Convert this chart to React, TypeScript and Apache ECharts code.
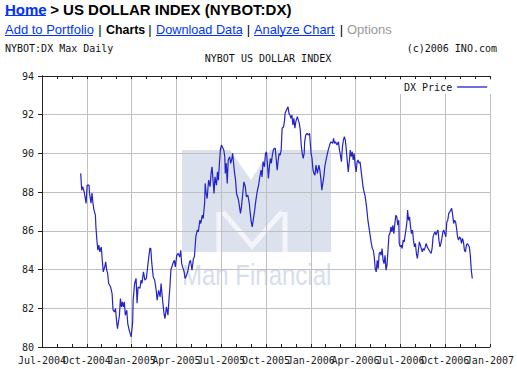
import React, { useEffect, useRef } from 'react';
import * as echarts from 'echarts';

// ---- data ----
const dates = [
  '2004-09-18','2004-09-19','2004-09-20','2004-09-22','2004-09-25','2004-09-29','2004-10-01','2004-10-05','2004-10-06','2004-10-09',
  '2004-10-11','2004-10-13','2004-10-15','2004-10-18','2004-10-19','2004-10-21','2004-10-23','2004-10-25','2004-10-27','2004-10-30',
  '2004-11-01','2004-11-03','2004-11-06','2004-11-08','2004-11-10','2004-11-12','2004-11-14','2004-11-18','2004-11-21','2004-11-23',
  '2004-11-26','2004-11-28','2004-11-30','2004-12-02','2004-12-04','2004-12-06','2004-12-08','2004-12-10','2004-12-12','2004-12-14',
  '2004-12-16','2004-12-18','2004-12-21','2004-12-23','2004-12-26','2004-12-28','2004-12-30','2005-01-01','2005-01-02','2005-01-03',
  '2005-01-06','2005-01-09','2005-01-11','2005-01-13','2005-01-17','2005-01-19','2005-01-21','2005-01-24','2005-01-27','2005-01-30',
  '2005-02-02','2005-02-06','2005-02-08','2005-02-10','2005-02-13','2005-02-16','2005-02-19','2005-02-21','2005-02-24','2005-02-27',
  '2005-03-01','2005-03-04','2005-03-07','2005-03-09','2005-03-12','2005-03-15','2005-03-17','2005-03-19','2005-03-21','2005-03-25',
  '2005-03-28','2005-03-30','2005-04-02','2005-04-05','2005-04-08','2005-04-10','2005-04-12','2005-04-14','2005-04-17','2005-04-19',
  '2005-04-22','2005-04-25','2005-04-28','2005-04-30','2005-05-03','2005-05-06','2005-05-08','2005-05-11','2005-05-14','2005-05-16',
  '2005-05-19','2005-05-21','2005-05-24','2005-05-26','2005-05-29','2005-05-30','2005-06-01','2005-06-03','2005-06-06','2005-06-09',
  '2005-06-11','2005-06-13','2005-06-15','2005-06-17','2005-06-19','2005-06-22','2005-06-24','2005-06-26','2005-06-28','2005-06-30',
  '2005-07-02','2005-07-04','2005-07-07','2005-07-09','2005-07-10','2005-07-12','2005-07-14','2005-07-16','2005-07-19','2005-07-21',
  '2005-07-23','2005-07-25','2005-07-27','2005-07-29','2005-07-31','2005-08-02','2005-08-04','2005-08-06','2005-08-08','2005-08-10',
  '2005-08-12','2005-08-15','2005-08-17','2005-08-20','2005-08-22','2005-08-25','2005-08-28','2005-08-30','2005-09-01','2005-09-03',
  '2005-09-05','2005-09-08','2005-09-10','2005-09-13','2005-09-16','2005-09-18','2005-09-21','2005-09-23','2005-09-25','2005-09-28',
  '2005-09-30','2005-10-02','2005-10-04','2005-10-06','2005-10-08','2005-10-10','2005-10-12','2005-10-14','2005-10-16','2005-10-18',
  '2005-10-20','2005-10-22','2005-10-24','2005-10-26','2005-10-28','2005-10-30','2005-11-01','2005-11-03','2005-11-06','2005-11-08',
  '2005-11-09','2005-11-12','2005-11-15','2005-11-17','2005-11-19','2005-11-21','2005-11-23','2005-11-25','2005-11-27','2005-11-29',
  '2005-12-01','2005-12-04','2005-12-06','2005-12-08','2005-12-10','2005-12-12','2005-12-14','2005-12-16','2005-12-18','2005-12-19',
  '2005-12-21','2005-12-24','2005-12-26','2005-12-29','2006-01-01','2006-01-03','2006-01-05','2006-01-07','2006-01-09','2006-01-11',
  '2006-01-14','2006-01-17','2006-01-19','2006-01-21','2006-01-23','2006-01-25','2006-01-27','2006-01-29','2006-01-31','2006-02-02',
  '2006-02-05','2006-02-07','2006-02-09','2006-02-11','2006-02-14','2006-02-16','2006-02-18','2006-02-20','2006-02-23','2006-02-26',
  '2006-02-28','2006-03-02','2006-03-04','2006-03-06','2006-03-08','2006-03-10','2006-03-12','2006-03-14','2006-03-16','2006-03-18',
  '2006-03-20','2006-03-22','2006-03-24','2006-03-26','2006-03-28','2006-03-30','2006-04-01','2006-04-03','2006-04-05','2006-04-07',
  '2006-04-09','2006-04-11','2006-04-13','2006-04-15','2006-04-17','2006-04-19','2006-04-21','2006-04-23','2006-04-25','2006-04-27',
  '2006-04-29','2006-05-02','2006-05-04','2006-05-06','2006-05-08','2006-05-10','2006-05-12','2006-05-14','2006-05-16','2006-05-18',
  '2006-05-20','2006-05-22','2006-05-24','2006-05-26','2006-05-28','2006-05-30','2006-06-01','2006-06-03','2006-06-05','2006-06-07',
  '2006-06-09','2006-06-11','2006-06-13','2006-06-15','2006-06-17','2006-06-19','2006-06-21','2006-06-23','2006-06-25','2006-06-27',
  '2006-06-29','2006-06-30','2006-07-02','2006-07-04','2006-07-06','2006-07-08','2006-07-10','2006-07-12','2006-07-14','2006-07-16',
  '2006-07-17','2006-07-19','2006-07-21','2006-07-23','2006-07-25','2006-07-27','2006-07-29','2006-07-31','2006-08-02','2006-08-04',
  '2006-08-06','2006-08-08','2006-08-10','2006-08-12','2006-08-14','2006-08-16','2006-08-18','2006-08-20','2006-08-22','2006-08-24',
  '2006-08-26','2006-08-28','2006-08-30','2006-09-01','2006-09-03','2006-09-05','2006-09-07','2006-09-09','2006-09-11','2006-09-13',
  '2006-09-15','2006-09-17','2006-09-19','2006-09-21','2006-09-23','2006-09-25','2006-09-27','2006-09-29','2006-10-01','2006-10-03',
  '2006-10-05','2006-10-07','2006-10-09','2006-10-11','2006-10-13','2006-10-15','2006-10-17','2006-10-19','2006-10-21','2006-10-23',
  '2006-10-25','2006-10-27','2006-10-29','2006-10-31','2006-11-02','2006-11-04','2006-11-06','2006-11-08','2006-11-10','2006-11-12',
  '2006-11-14','2006-11-16','2006-11-18','2006-11-20','2006-11-22','2006-11-24','2006-11-26'
];

const dxPrice = [
  88.97,88.53,88.10,88.28,88.02,87.42,88.36,88.36,87.93,87.43,
  87.95,87.43,87.07,86.81,86.21,85.52,85.00,85.26,84.91,85.17,
  84.48,83.88,84.14,84.40,83.97,83.80,83.28,83.10,82.76,81.90,
  81.81,81.99,81.38,80.95,81.29,81.64,82.50,82.07,82.33,82.07,
  82.33,81.64,81.90,81.21,80.86,80.69,80.52,81.03,81.29,82.42,
  83.28,83.54,82.26,83.10,83.04,83.45,83.29,83.88,83.45,83.55,
  84.23,85.09,85.09,84.33,83.62,83.45,82.93,82.42,82.93,82.59,
  83.28,82.42,81.73,81.47,82.07,81.64,82.42,83.10,83.97,84.31,
  84.48,84.14,84.74,84.83,84.65,85.00,84.31,84.14,83.88,83.54,
  83.71,83.97,84.40,84.48,83.97,84.57,84.65,85.73,86.04,85.95,
  86.55,86.38,86.81,86.64,87.50,88.45,87.93,87.67,88.62,88.28,
  88.97,89.31,88.62,87.93,88.79,88.36,89.05,88.62,89.49,90.17,
  90.43,90.34,90.17,89.83,88.97,89.49,88.45,89.66,89.83,89.49,
  89.66,90.00,89.49,88.97,88.62,87.93,87.76,87.59,87.24,86.90,
  87.24,88.02,88.53,88.28,87.76,87.85,87.42,86.90,86.46,86.21,
  86.55,87.07,87.50,88.02,88.36,88.71,89.14,88.79,89.57,89.31,
  90.00,90.09,89.49,88.71,89.31,89.74,89.49,89.91,90.17,90.26,
  90.26,89.66,89.14,89.66,90.00,89.91,90.17,91.30,91.38,91.72,
  92.07,92.24,92.41,92.07,91.98,91.81,91.98,91.47,91.81,91.30,
  91.64,91.90,91.72,91.55,91.21,90.43,90.00,89.74,90.00,90.60,
  90.95,91.04,90.95,91.04,90.00,89.74,89.14,88.97,88.88,89.40,
  88.97,89.40,89.14,88.71,88.10,88.45,88.79,89.31,89.57,89.83,
  90.17,90.34,90.52,90.60,90.52,90.78,90.52,90.60,90.43,90.60,
  90.17,89.91,89.57,90.34,90.69,90.86,90.69,90.17,89.57,89.05,
  89.57,90.17,89.83,90.09,89.66,90.00,89.40,89.05,89.57,89.66,
  89.49,89.57,89.14,88.71,88.28,88.02,87.85,87.50,87.07,86.55,
  86.21,85.69,85.35,85.09,85.00,84.65,84.05,83.88,84.48,84.05,
  84.83,84.91,84.74,85.09,84.48,84.31,84.74,83.97,84.23,85.00,
  85.78,85.86,86.21,85.95,86.29,85.86,86.38,86.81,86.72,86.29,
  86.55,85.35,85.17,85.26,85.09,85.52,85.43,85.78,86.12,86.55,
  87.07,86.55,86.72,86.21,85.86,86.04,85.52,85.17,85.35,84.83,
  84.57,85.00,85.43,85.26,85.09,84.91,85.09,85.00,85.17,85.35,
  85.17,85.09,85.00,84.91,84.83,85.09,85.69,85.86,85.95,85.78,
  85.95,86.04,85.52,85.17,85.35,85.61,85.95,86.04,85.86,85.69,
  86.46,86.55,86.90,86.98,87.07,87.16,86.81,86.38,86.55,86.46,
  86.12,85.69,85.52,85.69,85.61,85.35,85.61,85.43,85.00,84.91,
  85.26,85.35,85.26,85.17,84.74,83.97,83.54
];

// quarterly tick labels of the time axis
const quarterLabels = [
  'Jul-2004','Oct-2004','Jan-2005','Apr-2005','Jul-2005','Oct-2005',
  'Jan-2006','Apr-2006','Jul-2006','Oct-2006','Jan-2007'
];

const AXIS_START = '2004-07-01';
const AXIS_END = '2007-01-01';
const Y_MIN = 80;
const Y_MAX = 94;
const Y_STEP = 2;

const SERIES_NAME = 'DX Price';
const PAGE_TITLE = ' > US DOLLAR INDEX (NYBOT:DX)';
const CHART_TITLE = 'NYBOT US DOLLAR INDEX';

const DAY = 86400000;
const T0 = Date.parse(AXIS_START);
const SPAN = (Date.parse(AXIS_END) - T0) / DAY;

const MONO = '"DejaVu Sans Mono", "Liberation Mono", monospace';
const SANS = '"Liberation Sans", Arial, sans-serif';
const LINK = '#0033ff';
const LINE = '#2323c8';

export default function App() {
  const ref = useRef<HTMLDivElement>(null);

  useEffect(() => {
    if (!ref.current) return;
    const chart = echarts.init(ref.current, undefined, { renderer: 'svg' });
    const seriesData = dates.map((d, i) => [(Date.parse(d) - T0) / DAY, dxPrice[i]]);
    const interval = SPAN / (quarterLabels.length - 1);

    const txt = (x: number, y: number, text: string, font: string, fill: string, align = 'left') => ({
      type: 'text',
      x,
      y,
      style: { text, font, fill, align, verticalAlign: 'middle' },
    });
    const uline = (x1: number, x2: number, y: number) => ({
      type: 'line',
      shape: { x1, y1: y, x2, y2: y },
      style: { stroke: LINK, lineWidth: 1 },
    });

    const frameTicks = {
      axisLine: { show: true, lineStyle: { color: '#222', width: 1 } },
      axisTick: { show: true, inside: true, length: 3, lineStyle: { color: '#222' } },
      minorTick: { show: true, splitNumber: 3, length: 3, lineStyle: { color: '#222' } },
    };

    const option: any = {
      animation: false,
      backgroundColor: '#ffffff',
      grid: { left: 42, top: 76, width: 456, height: 271, containLabel: false },
      legend: {
        data: [{ name: SERIES_NAME, icon: 'rect' }],
        left: 400,
        top: 80,
        align: 'right',
        itemWidth: 30,
        itemHeight: 1.3,
        padding: [1, 10, 1, 4],
        backgroundColor: '#ffffff',
        textStyle: { fontFamily: MONO, fontSize: 10, color: '#111', lineHeight: 12 },
      },
      xAxis: [
        {
          // time scale (days since start), drives the series, grid and ticks
          type: 'value',
          position: 'bottom',
          min: 0,
          max: SPAN,
          interval,
          ...frameTicks,
          splitLine: { show: true, lineStyle: { color: '#c0c0c0', width: 1 } },
          axisLabel: { show: false },
        },
        {
          // quarter labels under the same positions
          type: 'category',
          position: 'bottom',
          data: quarterLabels,
          boundaryGap: false,
          axisLine: { show: false },
          axisTick: { show: false },
          splitLine: { show: false },
          axisLabel: {
            interval: 0,
            fontFamily: MONO,
            fontSize: 10,
            color: '#222',
            margin: 8,
          },
        },
        {
          type: 'value',
          position: 'top',
          min: 0,
          max: SPAN,
          interval,
          ...frameTicks,
          splitLine: { show: false },
          axisLabel: { show: false },
        },
      ],
      yAxis: [
        {
          type: 'value',
          position: 'left',
          min: Y_MIN,
          max: Y_MAX,
          interval: Y_STEP,
          axisLine: { show: true, lineStyle: { color: '#222', width: 1 } },
          axisTick: { show: false },
          splitLine: { show: true, lineStyle: { color: '#c0c0c0', width: 1 } },
          axisLabel: { fontFamily: MONO, fontSize: 10, color: '#222', margin: 8, showMinLabel: true, showMaxLabel: true },
        },
        {
          type: 'value',
          position: 'right',
          min: Y_MIN,
          max: Y_MAX,
          interval: Y_STEP,
          axisLine: { show: true, lineStyle: { color: '#222', width: 1 } },
          axisTick: { show: true, inside: true, length: 4, lineStyle: { color: '#222' } },
          splitLine: { show: false },
          axisLabel: { show: false },
        },
      ],
      series: [
        {
          name: SERIES_NAME,
          type: 'line',
          xAxisIndex: 0,
          yAxisIndex: 0,
          data: seriesData,
          symbol: 'none',
          showSymbol: false,
          lineStyle: { color: LINE, width: 1.2 },
          itemStyle: { color: LINE },
          z: 3,
        },
      ],
      graphic: {
        elements: [
          // watermark logo
          {
            type: 'polygon',
            z: -1,
            shape: { points: [[182, 150], [230, 150], [251, 180], [270, 150], [331, 150], [331, 252], [182, 252]] },
            style: { fill: '#dbe2ee' },
          },
          {
            type: 'polyline',
            z: -1,
            shape: { points: [[219, 212], [219, 252]] },
            style: { stroke: '#f3f5fa', lineWidth: 5, fill: 'none' },
          },
          {
            type: 'polyline',
            z: -1,
            shape: { points: [[223, 212], [252, 246], [282, 212]] },
            style: { stroke: '#f3f5fa', lineWidth: 5, fill: 'none' },
          },
          {
            type: 'polyline',
            z: -1,
            shape: { points: [[285, 212], [285, 252]] },
            style: { stroke: '#f3f5fa', lineWidth: 5, fill: 'none' },
          },
          {
            type: 'text',
            z: -1,
            x: 182,
            y: 275,
            scaleX: 0.8,
            style: { text: 'Man Financial', font: '30px ' + SANS, fill: '#d6deed', verticalAlign: 'middle' },
          },
          // page header
          txt(5, 9.5, 'Home', 'bold 15px ' + SANS, LINK),
          txt(46, 9.5, PAGE_TITLE, 'bold 15px ' + SANS, '#000'),
          uline(5, 46, 15.5),
          txt(5, 29.7, 'Add to Portfolio', '13px ' + SANS, LINK),
          txt(100, 29.7, '|', '13px ' + SANS, '#000', 'center'),
          txt(106, 29.7, 'Charts', 'bold 12.4px ' + SANS, '#000'),
          txt(150, 29.7, '|', '13px ' + SANS, '#000', 'center'),
          txt(156, 29.7, 'Download Data', '12.7px ' + SANS, LINK),
          txt(248.5, 29.7, '|', '13px ' + SANS, '#000', 'center'),
          txt(254, 29.7, 'Analyze Chart', '12.8px ' + SANS, LINK),
          txt(341.5, 29.7, '|', '13px ' + SANS, '#000', 'center'),
          txt(347, 29.7, 'Options', '13px ' + SANS, '#999'),
          uline(5, 93, 35.5),
          uline(156, 242, 35.5),
          uline(254, 335, 35.5),
          txt(5, 48, 'NYBOT:DX Max Daily', '10px ' + MONO, '#111'),
          txt(497, 48, '(c)2006 INO.com', '10px ' + MONO, '#111', 'right'),
          txt(268, 58, CHART_TITLE, '10px ' + MONO, '#111', 'center'),
        ],
      },
    };

    chart.setOption(option);
    return () => chart.dispose();
  }, []);

  return (
    <div
      ref={ref}
      style={{ position: 'fixed', left: 0, top: 0, width: 517, height: 369, background: '#fff' }}
    />
  );
}
